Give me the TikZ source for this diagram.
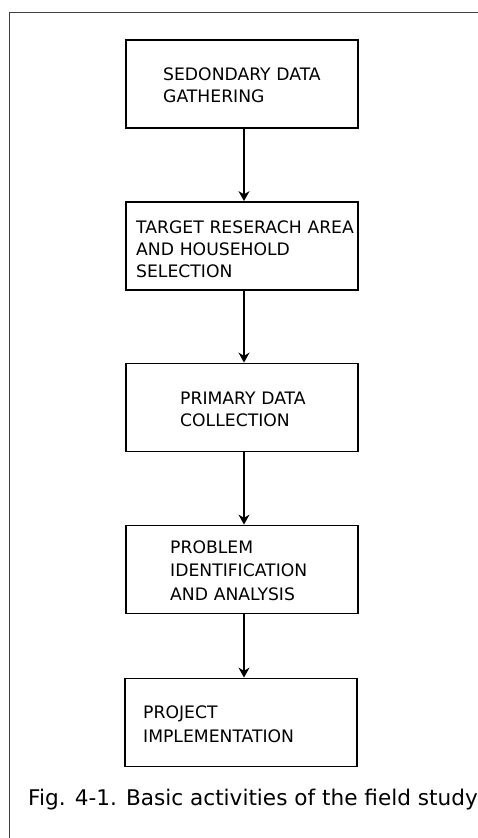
\documentclass[tikz,border=0pt]{standalone}
\usepackage{fontspec}
\setmainfont{DejaVu Sans}
\usetikzlibrary{arrows.meta}
\begin{document}
\begin{tikzpicture}[x=1pt,y=-1pt,
  stepbox/.style={draw=black,line width=1.8pt,minimum width=232pt,minimum height=88pt,inner sep=0pt},
  boxtext/.style={anchor=base west,inner sep=0pt,align=left,text width=230pt,font=\fontsize{17.2}{22}\selectfont},
  flow/.style={line width=1.5pt,-{Stealth[length=10pt,width=11pt]}},
  frame/.style={draw=black!75,line width=1.8pt}]
\useasboundingbox (0,0) rectangle (478,838);
\fill[white] (0,0) rectangle (478,838);
\coordinate (fbl) at (9.5,838);
\coordinate (ftl) at (9.5,12.5);
\coordinate (ftr) at (478,12.5);
\draw[frame] (fbl) -- (ftl) -- (ftr);
\node[stepbox] (b1) at (242,84) {};
\node[stepbox] (b2) at (242,246) {};
\node[stepbox] (b3) at (242,407.5) {};
\node[stepbox] (b4) at (242,569.5) {};
\node[stepbox] (b5) at (241,722.5) {};
\node[boxtext] (t1) at (163,80) {SEDONDARY DATA\\GATHERING};
\node[boxtext] (t2) at (136,233) {TARGET RESERACH AREA\\AND HOUSEHOLD\\SELECTION};
\node[boxtext] (t3) at (180,404) {PRIMARY DATA\\COLLECTION};
\node[boxtext,font=\fontsize{17.2}{23.5}\selectfont] (t4) at (170,553) {PROBLEM\\IDENTIFICATION\\AND ANALYSIS};
\node[boxtext,font=\fontsize{17.2}{24}\selectfont] (t5) at (143,718) {PROJECT\\IMPLEMENTATION};
\draw[flow] ([xshift=2pt]b1.south) -- ([xshift=2pt]b2.north);
\draw[flow] ([xshift=2pt]b2.south) -- ([xshift=2pt]b3.north);
\draw[flow] ([xshift=2pt]b3.south) -- ([xshift=2pt]b4.north);
\draw[flow] ([xshift=2pt]b4.south) -- ([xshift=2pt]b4.south |- b5.north);
\node[anchor=base west,inner sep=0pt,font=\fontsize{21.6}{26}\selectfont] (cap) at (28,805) {Fig. 4-1. Basic activities of the field study};
\end{tikzpicture}
\end{document}
